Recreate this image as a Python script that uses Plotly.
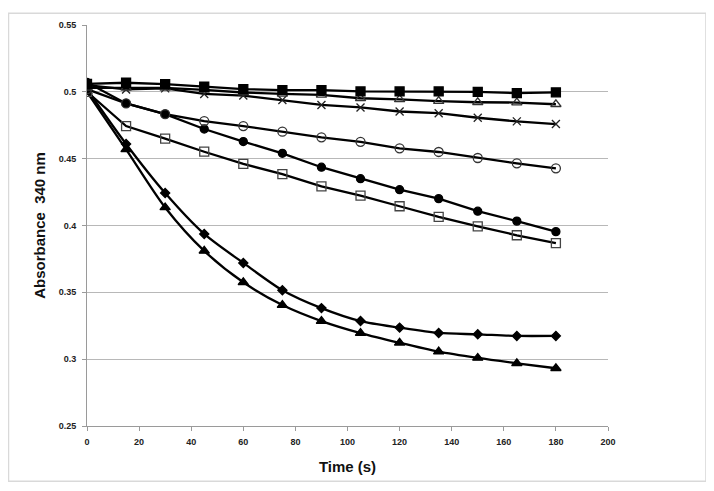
import plotly.graph_objects as go

time_s = [0, 15, 30, 45, 60, 75, 90, 105, 120, 135, 150, 165, 180]

abs_filled_square = [0.506, 0.5068, 0.5058, 0.5038, 0.502, 0.5013, 0.5013, 0.5003, 0.5003, 0.5003, 0.5000, 0.4990, 0.4996]
abs_open_triangle = [0.503, 0.503, 0.503, 0.5015, 0.4995, 0.4985, 0.4977, 0.4952, 0.4944, 0.4930, 0.4922, 0.4920, 0.4907]
abs_cross = [0.505, 0.5018, 0.5026, 0.4984, 0.4972, 0.4939, 0.4902, 0.4883, 0.4853, 0.4840, 0.4806, 0.4779, 0.4759]
abs_open_circle = [0.502, 0.4913, 0.4833, 0.4781, 0.4744, 0.4702, 0.4660, 0.4626, 0.4577, 0.4550, 0.4505, 0.4465, 0.4428]
abs_filled_circle = [0.507, 0.4913, 0.4833, 0.4722, 0.4628, 0.4540, 0.4436, 0.4350, 0.4268, 0.4201, 0.4107, 0.4033, 0.3954]
abs_open_square = [0.500, 0.4744, 0.4650, 0.4552, 0.4461, 0.4384, 0.4293, 0.4224, 0.4144, 0.4065, 0.3994, 0.3927, 0.3868]
abs_diamond = [0.502, 0.4610, 0.4243, 0.3937, 0.3720, 0.3516, 0.3382, 0.3285, 0.3236, 0.3196, 0.3186, 0.3174, 0.3174]
abs_filled_triangle = [0.500, 0.4570, 0.4135, 0.3810, 0.3575, 0.3405, 0.3285, 0.3195, 0.3122, 0.3056, 0.3009, 0.2969, 0.2932]

x_ticks = [0, 20, 40, 60, 80, 100, 120, 140, 160, 180, 200]
y_ticks = [0.25, 0.3, 0.35, 0.4, 0.45, 0.5, 0.55]
y_tick_text = ["0.25", "0.3", "0.35", "0.4", "0.45", "0.5", "0.55"]

series = [
    ("Filled triangle", abs_filled_triangle, "triangle-up", "black", 9, "spline"),
    ("Diamond", abs_diamond, "diamond", "black", 7, "spline"),
    ("Open square", abs_open_square, "square-open", "#444444", 9, "linear"),
    ("Filled circle", abs_filled_circle, "circle", "black", 8, "linear"),
    ("Open circle", abs_open_circle, "circle-open", "#333333", 9, "linear"),
    ("Cross", abs_cross, "x-thin-open", "#222222", 8, "linear"),
    ("Open triangle", abs_open_triangle, "triangle-up-open", "#333333", 9, "linear"),
    ("Filled square", abs_filled_square, "square", "black", 9, "linear"),
]

fig = go.Figure()
for name, vals, sym, mcol, msize, shape in series:
    fig.add_trace(go.Scatter(
        x=time_s, y=vals, name=name, mode="lines+markers",
        line=dict(color="black", width=2.3, shape=shape, smoothing=0.8),
        marker=dict(symbol=sym, size=msize, color=mcol,
                    line=dict(color=mcol, width=1.3)),
    ))

tick_font = dict(family="Liberation Sans, Arial, sans-serif", size=9, color="#222222", weight="bold")
title_font = dict(family="Liberation Sans, Arial, sans-serif", size=15, color="#111111")

fig.update_layout(
    width=714, height=491,
    margin=dict(l=79, r=114, t=13, b=73),
    paper_bgcolor="white", plot_bgcolor="white",
    showlegend=False,
    xaxis=dict(
        range=[0, 200], tickvals=x_ticks, showgrid=False, zeroline=False,
        showline=True, linecolor="#9a9a9a", linewidth=1,
        ticks="outside", ticklen=4, tickcolor="#9a9a9a",
        tickfont=tick_font, ticklabelstandoff=3,
        title=dict(text="<b>Time (s)</b>", font=title_font, standoff=15),
    ),
    yaxis=dict(
        range=[0.25, 0.55], tickvals=y_ticks, ticktext=y_tick_text,
        showgrid=True, gridcolor="#b8b8b8", gridwidth=1, zeroline=False,
        showline=True, linecolor="#9a9a9a", linewidth=1,
        ticks="outside", ticklen=4, tickcolor="#9a9a9a",
        tickfont=tick_font, ticklabelstandoff=4,
        title=dict(text="<b>Absorbance  340 nm</b>", font=title_font, standoff=9),
    ),
    shapes=[dict(type="rect", xref="paper", yref="paper",
                 x0=-0.1507, x1=1.188, y0=-0.138, y1=1.0296,
                 line=dict(color="#d9d9d9", width=1.5), fillcolor="rgba(0,0,0,0)", layer="below")],
)

fig.write_html("out.html")
